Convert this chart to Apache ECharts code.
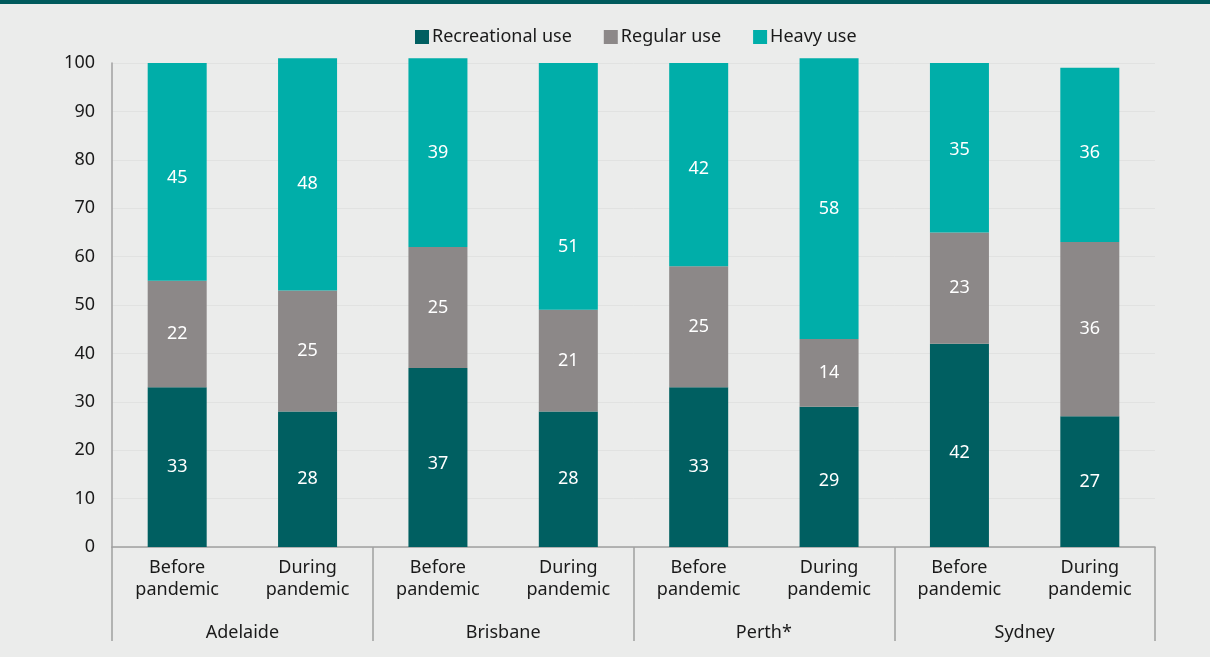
<!DOCTYPE html>
<html>
<head>
<meta charset="utf-8">
<script src="https://cdn.jsdelivr.net/npm/echarts@6/dist/echarts.min.js"></script>
<style>
html,body{margin:0;padding:0;background:#ebeceb;}
#top{position:absolute;left:0;top:0;width:1210px;height:4px;background:#005a5c;}
#c{position:absolute;left:0;top:0;width:1210px;height:657px;}
</style>
</head>
<body>
<div id="c"></div>
<div id="top"></div>
<script>
var periods = ['Before\npandemic','During\npandemic','Before\npandemic','During\npandemic','Before\npandemic','During\npandemic','Before\npandemic','During\npandemic'];
var cities = ['Adelaide','Brisbane','Perth*','Sydney'];
var recreational = [33,28,37,28,33,29,42,27];
var regular = [22,25,25,21,25,14,23,36];
var heavy = [45,48,39,51,42,58,35,36];
var yTicks = [0,10,20,30,40,50,60,70,80,90,100];

var font = '"Noto Sans", "Open Sans", sans-serif';
var chart = echarts.init(document.getElementById('c'), null, {renderer:'canvas'});
function ser(name, data, color, offsets){
  return {
    name:name, type:'bar', stack:'t', barWidth:59, clip:false,
    data:data.map(function(v,i){
      var o = {value:v};
      if (offsets && offsets[i]) o.label = {offset:offsets[i]};
      return o;
    }),
    itemStyle:{color:color},
    label:{show:true, position:'inside', color:'#ffffff', fontSize:18, fontFamily:font},
    emphasis:{disabled:true}
  };
}
// label nudges in the reference (styling only)
var heavyOffsets = [[0,6],[0,10],[0,0],[0,60],[0,4],[0,10],[0,2],[0,-2]];
var recOffsets = [[0,0],[0,0],[0,6],[0,0],[0,0],[0,4],[0,8],[0,0]];
chart.setOption({
  backgroundColor:'#ebeceb',
  animation:false,
  legend:{
    top:23, left:410, itemWidth:14, itemHeight:14, itemGap:32,
    icon:'rect',
    textStyle:{fontSize:18, fontFamily:font, color:'#1a1a1a', padding:[0,0,0,-2]},
    data:['Recreational use','Regular use','Heavy use']
  },
  grid:{left:112, right:55, top:63, bottom:110, containLabel:false},
  xAxis:[
    {type:'category', data:periods, position:'bottom',
     axisLine:{lineStyle:{color:'#a0a0a0', width:1.5}},
     axisTick:{show:false},
     axisLabel:{fontSize:18, fontFamily:font, color:'#1a1a1a', margin:10, lineHeight:22, interval:0}
    },
    {type:'category', data:cities, position:'bottom',
     axisLine:{show:false},
     axisTick:{show:true, length:94, alignWithLabel:false, lineStyle:{color:'#a0a0a0', width:1.5}},
     axisLabel:{fontSize:18, fontFamily:font, color:'#1a1a1a', margin:77, interval:0}
    }
  ],
  yAxis:{
    type:'value', min:0, max:100, interval:10,
    axisLine:{show:true, lineStyle:{color:'#a0a0a0', width:1.5}},
    axisTick:{show:false},
    axisLabel:{fontSize:18, fontFamily:font, color:'#1a1a1a', margin:17},
    splitLine:{show:true, lineStyle:{color:'#e1e2e1', width:1}}
  },
  series:[
    ser('Recreational use', recreational, '#005f61', recOffsets),
    ser('Regular use', regular, '#8c8888'),
    ser('Heavy use', heavy, '#00aea9', heavyOffsets)
  ]
});
</script>
</body>
</html>
